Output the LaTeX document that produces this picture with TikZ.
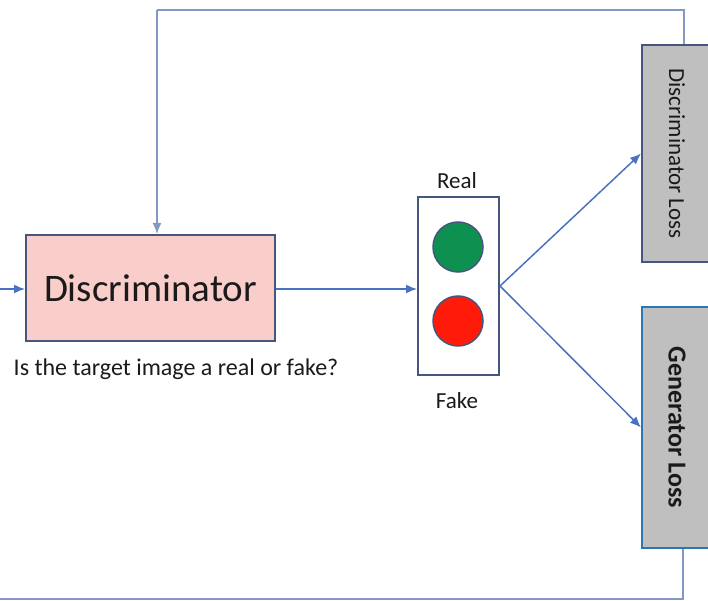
\documentclass[tikz,border=0pt]{standalone}
\usepackage{fontspec}
\setmainfont{Carlito}
\usetikzlibrary{arrows.meta}
\definecolor{pinkfill}{HTML}{F8CDCA}
\definecolor{boxedge}{HTML}{45577F}
\definecolor{arrblue}{HTML}{4A72C4}
\definecolor{loopcol}{HTML}{8398C2}
\definecolor{greyfill}{HTML}{BFBFBF}
\definecolor{genedge}{HTML}{2E75B6}
\definecolor{lgreen}{HTML}{0E9150}
\definecolor{lred}{HTML}{FF1A0A}
\definecolor{txt}{HTML}{1A1A1A}
\tikzset{
  blk/.style={draw=boxedge, line width=2pt, rectangle, inner sep=0pt, text=txt},
  conn/.style={draw=arrblue, line width=1.5pt, -{Latex[length=11pt,width=9pt]}},
  loopline/.style={draw=loopcol, line width=1.8pt},
  lamp/.style={circle, draw=boxedge, line width=1.5pt, minimum size=50pt, inner sep=0pt},
  lbl/.style={text=txt, inner sep=0pt}
}
\begin{document}
\begin{tikzpicture}[x=1pt,y=-1pt]
\useasboundingbox (0,0) rectangle (708,601);
\clip (0,0) rectangle (708,601);
% nodes
\node[blk, fill=pinkfill, minimum width=249pt, minimum height=106pt,
      font=\fontsize{39}{42}\selectfont] (disc) at (150.5,288) {Discriminator};
\node[lbl, font=\fontsize{24}{28}\selectfont] (cap) at (176,369) {Is the target image a real or fake?};
\node[blk, fill=white, minimum width=81pt, minimum height=178pt] (tl) at (458.5,286) {};
\node[lamp, fill=lgreen] (green) at (458,247) {};
\node[lamp, fill=lred] (red) at (458,321) {};
\node[lbl, font=\fontsize{23}{26}\selectfont] (real) at (457,181) {Real};
\node[lbl, font=\fontsize{23}{26}\selectfont] (fake) at (457,401) {Fake};
\node[blk, fill=greyfill, minimum width=70pt, minimum height=217pt,
      font=\fontsize{23}{24}\selectfont] (dl) at (677,153.5) {\rotatebox{-90}{Discriminator Loss}};
\node[blk, draw=genedge, fill=greyfill, minimum width=70pt, minimum height=241pt,
      font=\fontsize{26}{28}\selectfont\bfseries] (gl) at (677,427.5) {\rotatebox{-90}{Generator Loss}};
% coordinates
\coordinate (inL) at (0,289);
\coordinate (topL) at (157,10);
\coordinate (botL) at (0,599);
% connectors
\draw[conn] (inL) -- (disc.west |- inL);
\draw[conn] (disc.east |- inL) -- (tl.west |- inL);
\draw[conn] (tl.east) -- (dl.west);
\draw[conn] (tl.east) -- (gl.west);
\draw[loopline] ([xshift=7pt]dl.north) |- (topL);
\draw[conn, draw=loopcol] (topL) -- (topL |- disc.north);
\draw[loopline] ([xshift=6pt]gl.south) |- (botL);
\end{tikzpicture}
\end{document}
